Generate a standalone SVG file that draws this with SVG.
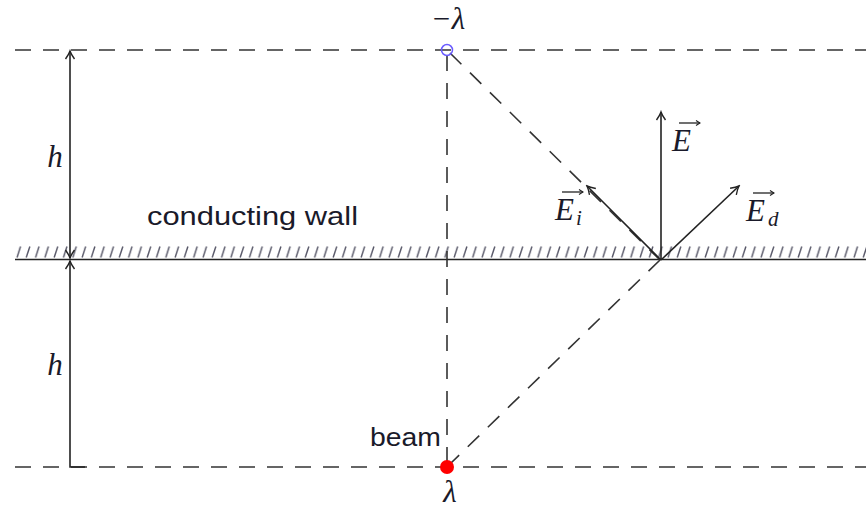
<svg xmlns="http://www.w3.org/2000/svg" width="866" height="510" viewBox="0 0 866 510">
<style>
.dash{fill:none;stroke:#333;stroke-width:1.6;stroke-dasharray:16 12}
.solid{fill:none;stroke:#222;stroke-width:1.6}
.sans{font-family:"Liberation Sans","DejaVu Sans",sans-serif;font-size:25px;fill:#1a1a2a}
.math{font-family:"Liberation Serif","DejaVu Serif",serif;font-style:italic;font-size:31px;fill:#1a1a2a}
.sub{font-family:"Liberation Serif","DejaVu Serif",serif;font-style:italic;font-size:21px;fill:#1a1a2a}
.vec{fill:none;stroke:#222;stroke-width:1.3}
</style>
<defs>
<marker id="ah" viewBox="-10 -6 12 12" refX="0" refY="0" markerWidth="12" markerHeight="12" markerUnits="userSpaceOnUse" orient="auto-start-reverse">
<path d="M-8,-4.5 Q-3,-1 0,0 Q-3,1 -8,4.5" fill="none" stroke="#222" stroke-width="1.4"/>
</marker>
<marker id="va" viewBox="-6 -4 7 8" refX="0" refY="0" markerWidth="7" markerHeight="8" markerUnits="userSpaceOnUse" orient="auto">
<path d="M-4,-2.5 L0,0 L-4,2.5" fill="none" stroke="#222" stroke-width="1.1"/>
</marker>
<pattern id="hatch" x="15" y="246" width="9.3" height="12" patternUnits="userSpaceOnUse">
<line x1="2" y1="11.5" x2="5.5" y2="0.5" stroke="#556" stroke-width="1.4"/>
</pattern>
</defs>

<g id="wall">
<rect x="15" y="246" width="851" height="12" fill="url(#hatch)"/>
<line class="solid" x1="15" y1="259.5" x2="866" y2="259.5"/>
<text class="sans" x="147" y="225" textLength="211" lengthAdjust="spacingAndGlyphs">conducting wall</text>
</g>

<g id="connectors">
<line class="dash" x1="15" y1="50" x2="866" y2="50"/>
<line class="dash" x1="15" y1="467" x2="866" y2="467"/>
<line class="dash" x1="447" y1="55" x2="447" y2="467"/>
<line class="dash" x1="450" y1="53" x2="660" y2="260"/>
<line class="dash" x1="660" y1="260" x2="450" y2="464"/>
<line class="solid" x1="70" y1="51" x2="70" y2="258" marker-start="url(#ah)" marker-end="url(#ah)"/>
<polyline class="solid" points="85,467 70,467 70,261" marker-end="url(#ah)"/>
<line class="solid" x1="661" y1="260" x2="661" y2="112" marker-end="url(#ah)"/>
<line class="solid" x1="661" y1="260" x2="587" y2="186" marker-end="url(#ah)"/>
<line class="solid" x1="661" y1="260" x2="739" y2="186" marker-end="url(#ah)"/>
</g>

<g id="image-charge">
<circle cx="447" cy="50" r="5.5" fill="none" stroke="#6a5cff" stroke-width="1.5"/>
<text class="math" x="448" y="29" text-anchor="middle">−λ</text>
</g>

<g id="beam">
<circle cx="447" cy="467" r="7" fill="#ff0000"/>
<text class="sans" x="370" y="446" textLength="71" lengthAdjust="spacingAndGlyphs">beam</text>
<text class="math" x="450" y="502" text-anchor="middle">λ</text>
</g>

<g id="h-labels">
<text class="math" x="55" y="167" text-anchor="middle">h</text>
<text class="math" x="55" y="375" text-anchor="middle">h</text>
</g>

<g id="field-E">
<text class="math" x="672" y="151">E</text>
<line class="vec" x1="679" y1="123" x2="700" y2="123" marker-end="url(#va)"/>
</g>
<g id="field-Ei">
<text class="math" x="555" y="220">E</text>
<text class="sub" x="576" y="225">i</text>
<line class="vec" x1="562" y1="192" x2="583" y2="192" marker-end="url(#va)"/>
</g>
<g id="field-Ed">
<text class="math" x="746" y="221">E</text>
<text class="sub" x="768" y="226">d</text>
<line class="vec" x1="753" y1="193" x2="774" y2="193" marker-end="url(#va)"/>
</g>
</svg>
